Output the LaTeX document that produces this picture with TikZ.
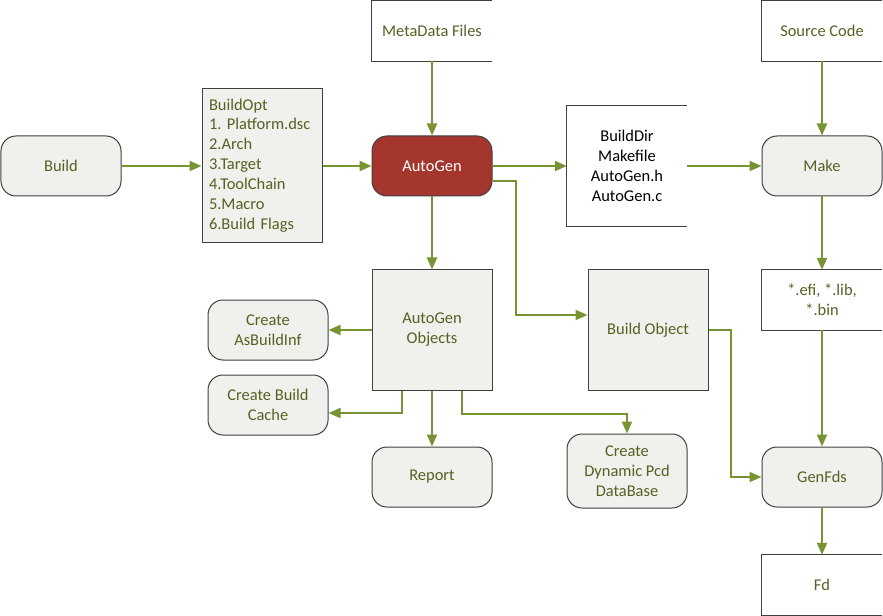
\documentclass[tikz,border=0pt]{standalone}
\usepackage{fontspec}
\setmainfont{Carlito}
\usetikzlibrary{arrows.meta}
\definecolor{olivegreen}{RGB}{119,147,50}
\definecolor{olivetext}{RGB}{84,98,35}
\definecolor{boxgray}{RGB}{240,240,236}
\definecolor{edgegray}{RGB}{64,64,64}
\definecolor{autored}{RGB}{165,54,46}
\tikzset{
  box/.style={draw=edgegray, fill=boxgray, line width=1bp, minimum width=120bp,
    minimum height=60bp, text=olivetext, align=center,
    font=\fontsize{16.5}{20}\selectfont\frenchspacing},
  roundbox/.style={box, rounded corners=15bp},
  store/.style={minimum width=120bp, minimum height=60bp, text=olivetext,
    align=center, font=\fontsize{16.5}{20}\selectfont\frenchspacing},
  flow/.style={draw=olivegreen, line width=2bp, -{Triangle[length=12bp,width=10bp]}},
}
\begin{document}
\begin{tikzpicture}[x=1bp,y=-1bp]
  \useasboundingbox (0,0) rectangle (883,616);
  % inputs and build options
  \node[roundbox] (build) at (61,166) {Build};
  \node[box, minimum height=153bp, align=left, inner xsep=7bp, text width=106bp] (opt) at (262,165.5)
    {BuildOpt\\1. Platform.dsc\\2.Arch\\3.Target\\4.ToolChain\\5.Macro\\6.Build Flags};
  \node[roundbox, fill=autored, text=white] (autogen) at (432,166) {AutoGen};
  \node[store] (meta) at (432,31) {MetaData Files};
  \node[store, minimum height=120bp, text=black] (dir) at (627,166) {BuildDir\\Makefile\\AutoGen.h\\AutoGen.c};
  % make column
  \node[store] (src) at (822,31) {Source Code};
  \node[roundbox] (make) at (822,166) {Make};
  \node[store] (bin) at (822,300) {*.efi, *.lib,\\*.bin};
  \node[roundbox] (genfds) at (822,477) {GenFds};
  \node[store] (fd) at (822,585) {Fd};
  % autogen outputs
  \node[box, minimum height=120bp] (objs) at (432,330) {AutoGen\\Objects};
  \node[box, minimum height=120bp] (bobj) at (648,330) {Build Object};
  \node[roundbox] (asbuild) at (268,330) {Create\\AsBuildInf};
  \node[roundbox] (cache) at (268,405) {Create Build\\Cache};
  \node[roundbox] (report) at (432,477) {Report};
  \node[roundbox, minimum height=74bp] (pcd) at (627,471) {Create\\Dynamic Pcd\\DataBase};
  % open file boxes
  \foreach \n in {meta,dir,src,bin,fd}
    \draw[edgegray, line width=1bp] (\n.north east) -- (\n.north west) -- (\n.south west) -- (\n.south east);
  % connectors
  \draw[flow] (build) -- (opt.west |- build.east);
  \draw[flow] (opt.east |- autogen.west) -- (autogen.west);
  \draw[flow] (meta) -- (autogen);
  \draw[flow] (autogen) -- (dir);
  \draw[flow] (dir) -- (make);
  \draw[flow] (src) -- (make);
  \draw[flow] (make) -- (bin);
  \draw[flow] (bin) -- (genfds);
  \draw[flow] (genfds) -- (fd);
  \draw[flow] (autogen) -- (objs);
  \draw[flow] ([yshift=-15bp]autogen.east) -- ++(23,0) |- ([yshift=15bp]bobj.west);
  \draw[flow] (bobj.east) -- ++(22,0) |- (genfds.west);
  \draw[flow] (objs) -- (asbuild);
  \draw[flow] ([xshift=-30bp]objs.south) |- ([yshift=-8bp]cache.east);
  \draw[flow] (objs) -- (report);
  \draw[flow] ([xshift=30bp]objs.south) -- ++(0,23) -| (pcd.north);
\end{tikzpicture}
\end{document}
